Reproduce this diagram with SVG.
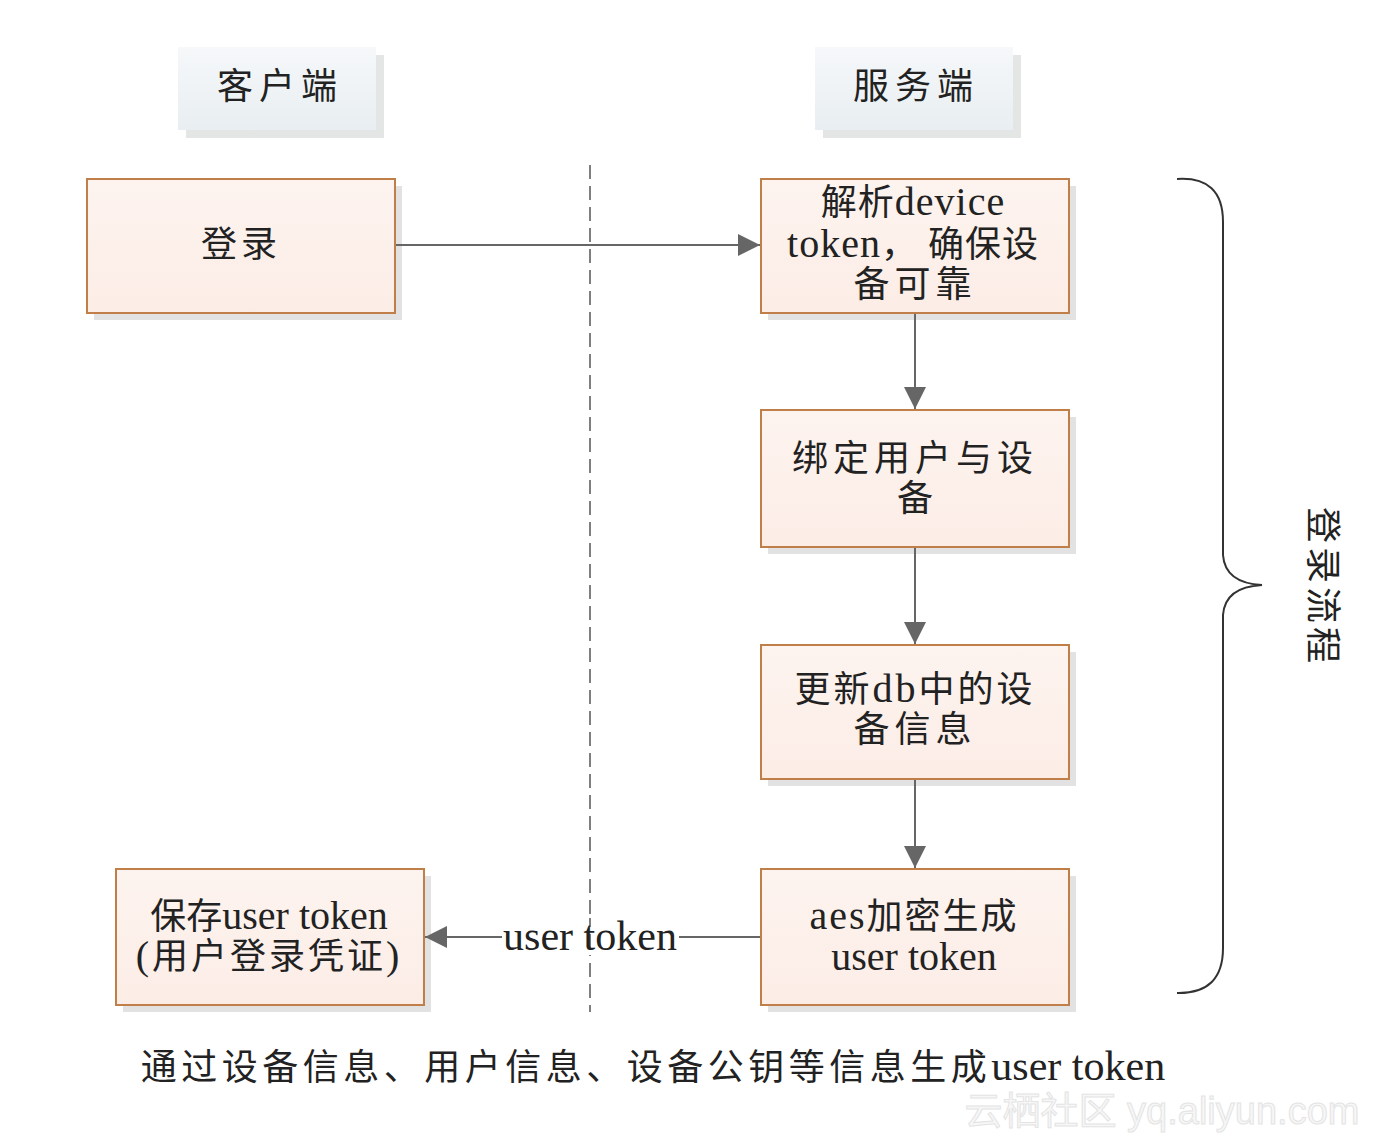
<svg xmlns="http://www.w3.org/2000/svg" width="1400" height="1137" viewBox="0 0 1400 1137">
<style>
.t{font-family:"Liberation Serif","Noto Sans CJK SC",serif;font-size:36px;fill:#222;text-anchor:middle}
.l{font-size:40px}
.xl{font-size:42px}
.box{fill:url(#ng);stroke:#c07f48;stroke-width:2}
.sh{fill:#e2e2e2}
.hsh{fill:#e4e6e6}
.hb{fill:url(#hg)}
.con{stroke:#666;stroke-width:2;fill:none}
</style>
<defs>
<linearGradient id="ng" x1="0" y1="0" x2="0" y2="1"><stop offset="0" stop-color="#fdf4ef"/><stop offset="1" stop-color="#fcece6"/></linearGradient>
<linearGradient id="hg" x1="0" y1="0" x2="0" y2="1"><stop offset="0" stop-color="#f6f8fa"/><stop offset="1" stop-color="#e8eef1"/></linearGradient>
<marker id="a" viewBox="0 0 20 20" refX="20" refY="10" markerWidth="22" markerHeight="22" markerUnits="userSpaceOnUse" orient="auto"><path d="M0,0 L20,10 L0,20 z" fill="#666"/></marker>
</defs>
<rect width="1400" height="1137" fill="#fff"/>

<g id="header-client">
<rect class="hsh" x="186" y="55" width="198" height="83"/>
<rect class="hb" x="178" y="47" width="198" height="83"/>
<text class="t" x="280" y="99" letter-spacing="6">客户端</text>
</g>
<g id="header-server">
<rect class="hsh" x="823" y="55" width="198" height="83"/>
<rect class="hb" x="815" y="47" width="198" height="83"/>
<text class="t" x="916" y="99" letter-spacing="6">服务端</text>
</g>

<line id="divider" x1="590" y1="165" x2="590" y2="1012" stroke="#555" stroke-width="1.5" stroke-dasharray="14,7"/>

<g id="node-login">
<rect class="sh" x="94" y="186" width="308" height="134"/>
<rect class="box" x="87" y="179" width="308" height="134"/>
<text class="t" x="241" y="257" letter-spacing="4">登录</text>
</g>
<g id="node-parse">
<rect class="sh" x="768" y="186" width="308" height="134"/>
<rect class="box" x="761" y="179" width="308" height="134"/>
<text class="t" x="913" y="215" letter-spacing="1">解析<tspan class="l">device</tspan></text>
<text class="t" x="913" y="257" letter-spacing="1"><tspan class="l">token</tspan>， 确保设</text>
<text class="t" x="915" y="297" letter-spacing="5">备可靠</text>
</g>
<g id="node-bind">
<rect class="sh" x="768" y="417" width="308" height="137"/>
<rect class="box" x="761" y="410" width="308" height="137"/>
<text class="t" x="915" y="471" letter-spacing="5">绑定用户与设</text>
<text class="t" x="915" y="511">备</text>
</g>
<g id="node-update">
<rect class="sh" x="768" y="652" width="308" height="134"/>
<rect class="box" x="761" y="645" width="308" height="134"/>
<text class="t" x="915" y="702" letter-spacing="3">更新<tspan class="l">db</tspan>中的设</text>
<text class="t" x="915" y="742" letter-spacing="5">备信息</text>
</g>
<g id="node-aes">
<rect class="sh" x="768" y="876" width="308" height="136"/>
<rect class="box" x="761" y="869" width="308" height="136"/>
<text class="t" x="914" y="929" letter-spacing="2"><tspan class="l">aes</tspan>加密生成</text>
<text class="t l" x="914" y="970">user token</text>
</g>
<g id="node-save">
<rect class="sh" x="123" y="876" width="308" height="136"/>
<rect class="box" x="116" y="869" width="308" height="136"/>
<text class="t" x="269" y="929">保存<tspan class="l">user token</tspan></text>
<text class="t" x="269" y="969" letter-spacing="3"><tspan class="l">(</tspan>用户登录凭证<tspan class="l">)</tspan></text>
</g>

<g id="connectors">
<line class="con" x1="396" y1="245" x2="760" y2="245" marker-end="url(#a)"/>
<line class="con" x1="915" y1="314" x2="915" y2="409" marker-end="url(#a)"/>
<line class="con" x1="915" y1="548" x2="915" y2="644" marker-end="url(#a)"/>
<line class="con" x1="915" y1="780" x2="915" y2="868" marker-end="url(#a)"/>
<line class="con" x1="760" y1="937" x2="425" y2="937" marker-end="url(#a)"/>
<rect x="502" y="918" width="177" height="38" fill="#fff"/>
<line x1="590" y1="918" x2="590" y2="956" stroke="#555" stroke-width="1.5" stroke-dasharray="14,7" stroke-dashoffset="5"/>
<text class="t xl" x="590" y="950">user token</text>
</g>

<g id="brace">
<path d="M1177,179 Q1223,176 1223,222 L1223,555 Q1225,583 1262,585 Q1225,587 1223,615 L1223,948 Q1223,994 1177,993" fill="none" stroke="#333" stroke-width="2"/>
<text class="t" transform="translate(1322,587) rotate(90)" dominant-baseline="central" letter-spacing="4">登录流程</text>
</g>

<text class="t" x="653" y="1080" letter-spacing="4.5">通过设备信息、用户信息、设备公钥等信息生成<tspan class="xl" letter-spacing="0">user token</tspan></text>

<text x="1162" y="1124" font-family="Liberation Sans,Noto Sans CJK SC,sans-serif" font-size="38" text-anchor="middle" fill="#f7f7f7" stroke="#e4e4e4" stroke-width="1">云栖社区 yq.aliyun.com</text>
</svg>
